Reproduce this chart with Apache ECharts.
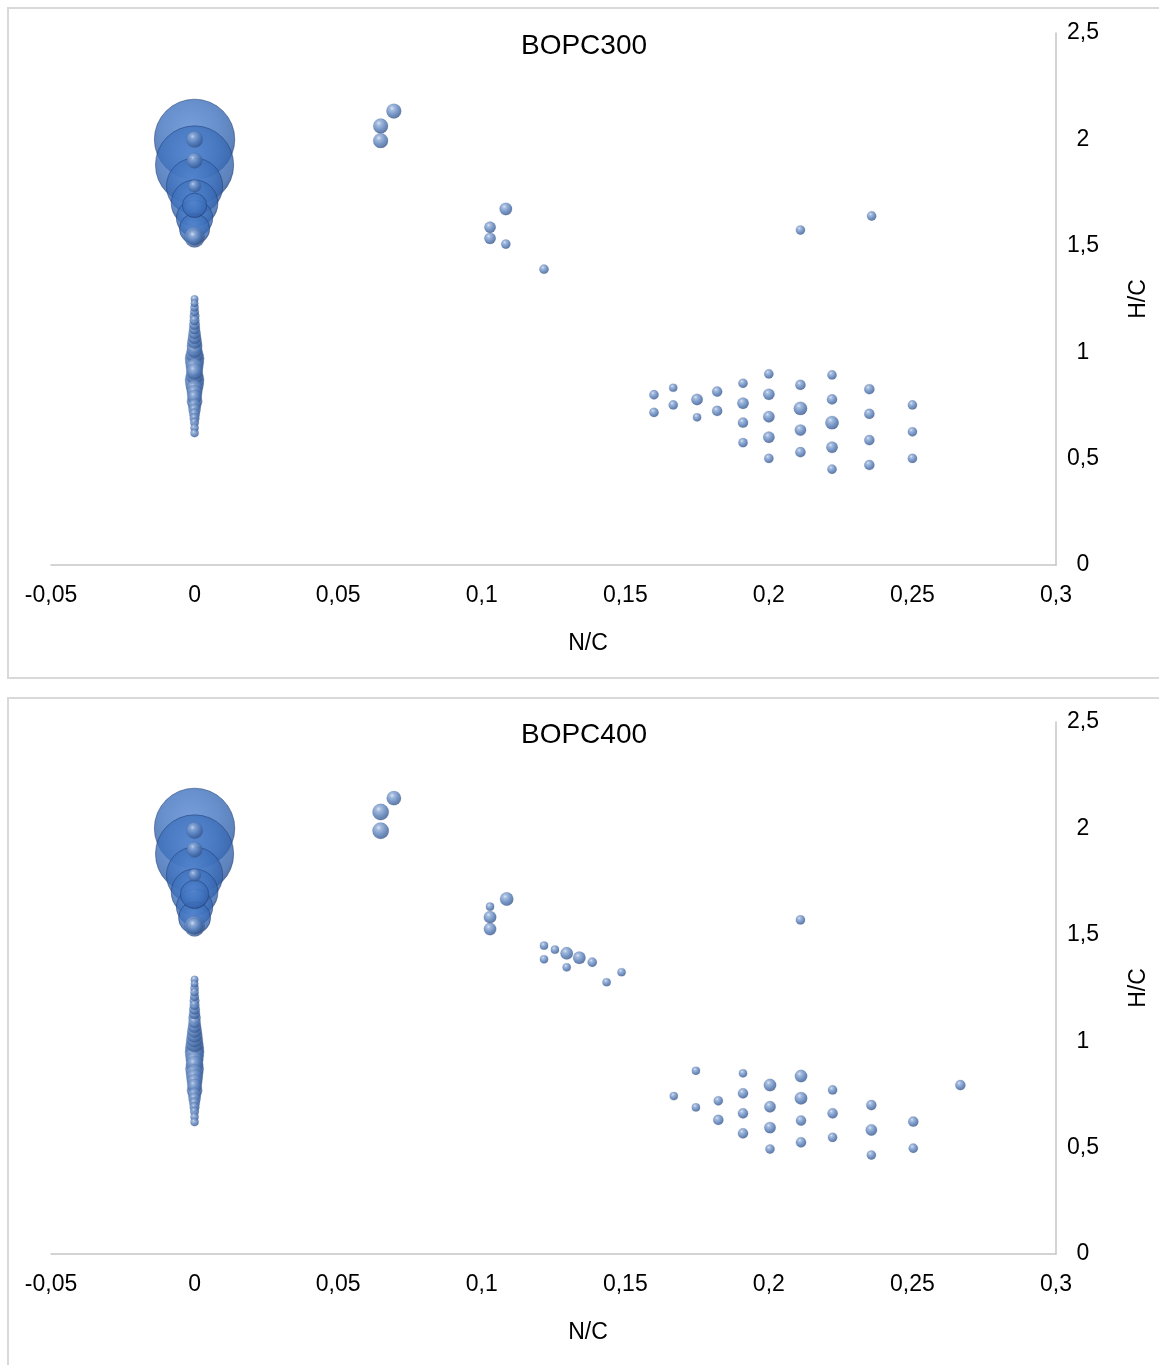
<!DOCTYPE html>
<html>
<head>
<meta charset="utf-8">
<script src="https://cdn.jsdelivr.net/npm/echarts@6/dist/echarts.min.js"></script>
<style>
html,body{margin:0;padding:0;background:#fff;overflow:hidden;width:1159px;height:1365px;}
#chart{width:1159px;height:1365px;}
</style>
</head>
<body>
<div id="chart"></div>
<script>
// ---------- DATA ----------
const titles = ['BOPC300', 'BOPC400'];
const xTicks = [-0.05, 0, 0.05, 0.1, 0.15, 0.2, 0.25, 0.3];
const yTicks = [0, 0.5, 1, 1.5, 2, 2.5];

// BOPC300: N/C, H/C, bubble size
const nc300 = [
  0,0,0,0,0,0,0,0,0,0,0,0,
  0,0,0,0,0,0,0,0,0,0,0,0,0,0,0,0,0,0,0,0,0,0,0,0,0,0,0,0,0,0,0,0,
  0.0694,0.0648,0.0648,
  0.1084,0.1029,0.1029,0.1084,0.1217,
  0.211,0.2358,
  0.16,0.16,
  0.1667,0.1667,
  0.175,0.175,
  0.182,0.182,
  0.191,0.191,0.191,0.191,
  0.2,0.2,0.2,0.2,0.2,
  0.211,0.211,0.211,0.211,
  0.222,0.222,0.222,0.222,0.222,
  0.235,0.235,0.235,0.235,
  0.25,0.25,0.25
];
const hc300 = [
  2.00,1.88,1.78,1.70,1.63,1.58,1.54,2.00,1.90,1.78,1.69,1.54,
  1.25,1.23,1.21,1.19,1.17,1.15,1.13,1.11,1.09,1.07,1.05,1.03,1.01,0.99,0.97,0.95,0.93,0.91,0.89,0.87,0.85,0.83,0.81,0.79,0.77,0.75,0.73,0.71,0.69,0.67,0.645,0.62,
  2.133,2.063,1.994,
  1.673,1.587,1.535,1.508,1.39,
  1.574,1.64,
  0.80,0.717,
  0.833,0.752,
  0.778,0.694,
  0.815,0.724,
  0.854,0.76,0.669,0.575,
  0.898,0.802,0.697,0.60,0.501,
  0.846,0.736,0.634,0.53,
  0.893,0.778,0.669,0.553,0.45,
  0.826,0.71,0.587,0.47,
  0.752,0.626,0.501
];
const size300 = [
  900,850,430,290,170,115,48,29,25,15,72,29,
  4,4,5,6,8,8,10,11,14,17,21,25,25,33,42,38,33,29,33,42,38,29,25,21,25,17,14,10,8,6,5,5,
  23,23,23,
  15,12,12,7,7,
  7,7,
  7,7,
  5,7,
  12,5,
  9,9,
  7,12,9,7,
  7,12,12,12,7,
  9,18,12,9,
  7,9,18,12,7,
  9,9,9,9,
  7,7,7
];

// BOPC400: N/C, H/C, bubble size
const nc400 = [
  0,0,0,0,0,0,0,0,0,0,0,0,
  0,0,0,0,0,0,0,0,0,0,0,0,0,0,0,0,0,0,0,0,0,0,0,0,0,0,0,0,0,0,0,0,0,0,
  0.0694,0.0648,0.0648,
  0.1087,0.1029,0.1029,0.1029,
  0.1217,0.1255,0.1296,0.134,0.1385,0.1217,0.1296,0.1487,0.1435,
  0.211,
  0.1746,0.1669,0.1746,
  0.1824,0.1824,
  0.191,0.191,0.191,0.191,
  0.2004,0.2004,0.2004,0.2004,
  0.2112,0.2112,0.2112,0.2112,
  0.2222,0.2222,0.2222,
  0.2357,0.2357,0.2357,
  0.2503,0.2503,
  0.2667
];
const hc400 = [
  2.00,1.88,1.78,1.70,1.63,1.58,1.54,1.99,1.90,1.78,1.69,1.54,
  1.29,1.27,1.25,1.23,1.21,1.19,1.17,1.15,1.13,1.11,1.09,1.07,1.05,1.03,1.01,0.99,0.97,0.95,0.93,0.91,0.89,0.87,0.85,0.83,0.81,0.79,0.77,0.75,0.73,0.71,0.69,0.67,0.645,0.62,
  2.142,2.077,1.989,
  1.668,1.632,1.583,1.527,
  1.449,1.43,1.413,1.392,1.371,1.385,1.347,1.324,1.277,
  1.57,
  0.861,0.742,0.689,
  0.72,0.63,
  0.849,0.755,0.661,0.567,
  0.794,0.692,0.594,0.493,
  0.836,0.732,0.627,0.525,
  0.771,0.661,0.548,
  0.70,0.583,0.465,
  0.622,0.497,
  0.794
];
const size400 = [
  900,850,430,290,170,130,48,29,25,15,100,29,
  4,4,5,5,6,8,8,10,11,14,14,17,21,25,29,33,38,42,38,33,33,38,33,29,25,21,25,17,14,10,8,6,5,5,
  21,29,29,
  18,5,15,15,
  5,5,15,15,7,5,5,5,5,
  7,
  5,5,5,
  7,9,
  5,9,9,9,
  15,12,12,7,
  15,15,9,9,
  7,9,7,
  9,12,7,
  9,7,
  9
];

// ---------- CHART ----------
const chart = echarts.init(document.getElementById('chart'), null, {renderer: 'canvas', width: 1159, height: 1365});
const FONT = '"Liberation Sans", Arial, sans-serif';

function fmt(v) {
  return String(Math.round(v * 100) / 100).replace('.', ',');
}

const smallGrad = new echarts.graphic.RadialGradient(0.38, 0.32, 0.72, [
  {offset: 0, color: '#d4e0f2'},
  {offset: 0.2, color: '#8eaad6'},
  {offset: 0.6, color: '#527ab6'},
  {offset: 1, color: '#334f82'}
]);
const bigGrad = new echarts.graphic.RadialGradient(0.45, 0.38, 0.62, [
  {offset: 0, color: '#5586d0'},
  {offset: 0.55, color: '#4174bf'},
  {offset: 0.88, color: '#3563ab'},
  {offset: 1, color: '#284d8c'}
]);

function buildData(nc, hc, sz) {
  const items = nc.map((x, i) => ({
    value: [x, hc[i], sz[i]],
    itemStyle: sz[i] > 60
      ? {color: bigGrad, borderColor: 'rgba(30,60,115,0.65)', borderWidth: 1}
      : {color: smallGrad, borderColor: 'rgba(50,80,130,0.35)', borderWidth: 0.5}
  }));
  items.sort((a, b) => b.value[2] - a.value[2]);
  return items;
}

const panelTops = [33, 722];
const grids = panelTops.map(t => ({left: 51, width: 1005, top: t, height: 532, containLabel: false, outerBoundsMode: 'none'}));

const xAxes = panelTops.map((t, i) => ({
  type: 'value', gridIndex: i,
  min: xTicks[0], max: xTicks[xTicks.length - 1], interval: 0.05,
  axisLine: {show: true, onZero: false, lineStyle: {color: '#c6c6c6', width: 1.5}},
  axisTick: {show: false},
  splitLine: {show: false},
  axisLabel: {formatter: fmt, margin: 19, fontSize: 23, color: '#000', fontFamily: FONT,
              showMinLabel: true, showMaxLabel: true}
}));

const yAxes = panelTops.map((t, i) => ({
  type: 'value', gridIndex: i, position: 'right',
  min: yTicks[0], max: yTicks[yTicks.length - 1], interval: 0.5,
  axisLine: {show: true, onZero: false, lineStyle: {color: '#c6c6c6', width: 1.5}},
  axisTick: {show: false},
  splitLine: {show: false},
  axisLabel: {formatter: fmt, margin: 27, align: 'center', fontSize: 23, color: '#000', fontFamily: FONT,
              padding: [5, 0, 0, 0], showMinLabel: true, showMaxLabel: true},
  name: 'H/C', nameLocation: 'middle', nameGap: 71, nameRotate: 90,
  nameTextStyle: {fontSize: 23, color: '#000', fontFamily: FONT}
}));

const series = [
  {type: 'scatter', xAxisIndex: 0, yAxisIndex: 0, data: buildData(nc300, hc300, size300),
   symbolSize: v => 2.6 * Math.sqrt(v[2]) + 2.4},
  {type: 'scatter', xAxisIndex: 1, yAxisIndex: 1, data: buildData(nc400, hc400, size400),
   symbolSize: v => 2.6 * Math.sqrt(v[2]) + 2.4}
];

const graphics = [
  {type: 'rect', shape: {x: 8, y: 8, width: 1160, height: 670}, style: {fill: 'none', stroke: '#d9d9d9', lineWidth: 2}, z: -10},
  {type: 'rect', shape: {x: 8, y: 698, width: 1160, height: 675}, style: {fill: 'none', stroke: '#d9d9d9', lineWidth: 2}, z: -10}
];
[0, 689].forEach((dy, i) => {
  graphics.push({type: 'text', x: 584, y: 46 + dy, style: {text: titles[i], fontSize: 28, fill: '#000', fontFamily: FONT, textAlign: 'center', textVerticalAlign: 'middle'}});
  graphics.push({type: 'text', x: 588, y: 644 + dy, style: {text: 'N/C', fontSize: 23, fill: '#000', fontFamily: FONT, textAlign: 'center', textVerticalAlign: 'middle'}});
});

chart.setOption({
  animation: false,
  backgroundColor: '#fff',
  grid: grids,
  xAxis: xAxes,
  yAxis: yAxes,
  series: series,
  graphic: graphics
});
</script>
</body>
</html>
